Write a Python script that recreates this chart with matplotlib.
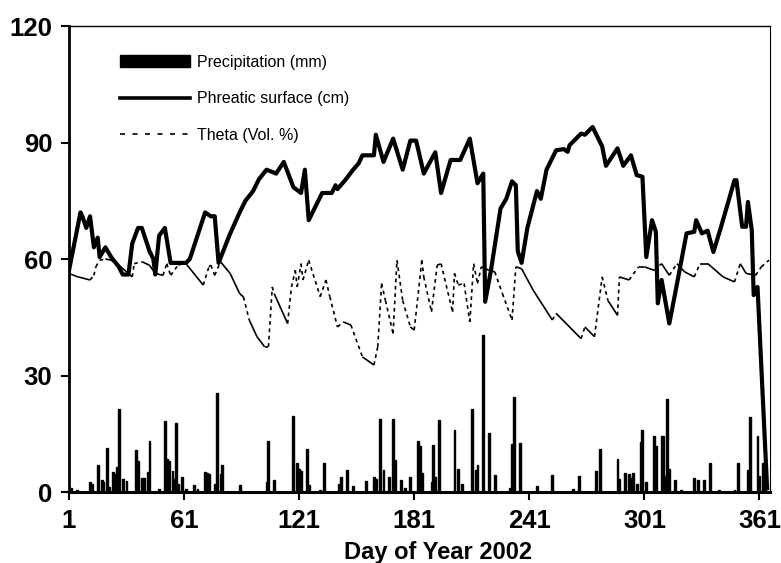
import matplotlib

matplotlib.use("Agg")
import matplotlib.pyplot as plt
import numpy as np
from matplotlib.collections import LineCollection
from matplotlib.lines import Line2D
from matplotlib.patches import Patch

plt.rcParams["font.family"] = ["Liberation Sans", "DejaVu Sans"]

# Phreatic surface (cm)
phreatic_day = [1, 3, 7, 8, 10, 12, 14, 16, 17, 20, 23, 27, 29, 32, 34, 37, 39, 43, 45, 46,
                48, 51, 54, 56, 62, 64, 72, 75, 77, 79, 85, 90, 93, 97, 100, 104, 109, 113, 118, 122,
                124, 126, 133, 138, 140, 141, 145, 149, 152, 154, 160, 161, 165, 170, 175, 179, 182, 186, 192, 195,
                200, 205, 210, 214, 217, 218, 221, 226, 229, 232, 234, 235, 237, 240, 245, 247, 250, 255, 259, 261,
                262, 268, 270, 274, 279, 281, 287, 290, 294, 297, 300, 302, 305, 307, 308, 310, 314, 317, 323, 327,
                328, 331, 334, 335, 337, 341, 348, 349, 352, 354, 355, 357, 358, 360, 365]
phreatic_cm = [57, 62, 72, 71, 68, 71, 63, 65.5, 60.5, 63, 60.5, 58, 56, 56, 64, 68, 68, 62, 60, 56,
               66, 68, 59, 59, 59, 60, 72, 71, 71, 59, 66.5, 72, 75, 77.5, 80.5, 83, 82, 85, 78.5, 77,
               83, 70, 77, 77, 79, 78, 80.3, 82.9, 84.6, 86.7, 86.7, 92, 85, 91, 83, 90.5, 90.5, 82, 87.5, 77,
               85.5, 85.5, 91, 79.5, 82, 49, 57, 73, 75.5, 80, 79, 62, 59, 68, 77.5, 75.5, 83, 88, 88.3, 87.6,
               89.3, 92.3, 92, 94, 89, 84, 88.5, 84, 86.7, 81.6, 81.2, 60.5, 70, 67, 48.6, 54.6, 43.4, 51, 66.6, 67,
               70, 66.6, 67.3, 65.4, 61.8, 68.3, 80.3, 80.3, 68.3, 68.3, 74.7, 67.4, 50.7, 52.8, 1]

# Theta (Vol. %)
theta_day = [1, 5, 12, 14, 15, 17, 20, 23, 28, 34, 35, 39, 43, 46, 50, 52, 54, 58, 62, 71,
             74, 75, 77, 80, 85, 90, 92, 95, 99, 103, 105, 107, 108, 115, 117, 119, 120, 122, 123, 126,
             132, 135, 137, 141, 144, 148, 154, 160, 162, 164, 166, 170, 172, 175, 179, 181, 185, 186, 190, 193,
             195, 201, 202, 204, 207, 210, 212, 214, 216, 220, 223, 227, 232, 234, 237, 243, 253, 255, 261, 268,
             270, 275, 279, 282, 287, 288, 293, 298, 301, 306, 310, 314, 318, 322, 327, 330, 334, 336, 342, 348,
             351, 354, 359, 362, 366]
theta_pct = [56.3, 55.5, 54.6, 55.8, 58, 59.7, 60, 59.7, 58, 55.4, 58.8, 59.3, 58.4, 56.3, 55.8, 58.8, 55.8, 58.5, 58.8, 53.3,
             58, 58.4, 55.8, 59.3, 56.3, 51.1, 50.2, 44.3, 40, 37.4, 37.4, 52.8, 51.1, 43.4, 52.8, 57.1, 52.8, 58.8, 54.6, 59.7,
             50.3, 54.6, 50.3, 42.5, 43.8, 43, 34.8, 32.7, 37.4, 53.7, 49.3, 40.8, 59.7, 49.3, 42.5, 41.7, 59.7, 55.4, 46.4, 58.4,
             58.8, 46.4, 56.3, 53.3, 53.7, 43.8, 58.8, 53.7, 58, 57.1, 56.7, 51.1, 44.3, 58, 57.5, 52, 44.3, 46, 43, 39.5,
             42.5, 40, 55.4, 49.3, 45.5, 55.4, 54.6, 58, 58, 57.1, 58.8, 55.8, 58.8, 56.7, 55.4, 58.8, 58.8, 58, 55.4, 54.1,
             58.8, 56.3, 55.8, 58, 59.7]

# Daily precipitation (mm)
precip_day = [2, 5, 12, 13, 16, 18, 19, 21, 22, 24, 25, 26, 27, 29, 31, 36, 37, 39, 40, 42,
              43, 48, 51, 52, 53, 55, 56, 57, 58, 60, 62, 66, 68, 72, 73, 74, 77, 78, 80, 81,
              90, 104, 105, 108, 118, 120, 121, 122, 125, 126, 132, 134, 142, 143, 146, 149, 156, 160, 161, 163,
              165, 168, 170, 171, 174, 176, 179, 183, 184, 185, 190, 191, 192, 194, 202, 204, 206, 211, 213, 214,
              217, 220, 223, 231, 232, 233, 236, 245, 253, 264, 267, 276, 278, 287, 288, 291, 293, 294, 295, 297,
              299, 300, 302, 306, 307, 310, 311, 312, 313, 314, 317, 320, 327, 329, 332, 335, 340, 348, 350, 355,
              356, 360, 361, 363, 364]
precip_mm = [1.0, 0.6, 2.6, 2.1, 6.9, 3.0, 2.6, 11.3, 1.3, 5.1, 4.7, 6.5, 21.3, 3.4, 2.8, 10.9, 8.1, 3.6, 3.6, 5.1,
             13.1, 0.9, 18.4, 8.5, 8.1, 5.5, 3.4, 17.8, 2.1, 3.9, 0.9, 1.7, 0.9, 5.1, 4.8, 4.7, 2.1, 25.5, 4.7, 7.0,
             1.7, 2.7, 13.2, 3.1, 19.6, 7.4, 6.0, 5.3, 11.0, 1.9, 0.6, 7.4, 2.1, 3.9, 5.6, 1.5, 2.8, 3.9, 3.4, 18.7,
             5.6, 3.9, 18.7, 8.3, 3.1, 1.0, 3.9, 13.2, 11.8, 4.9, 2.7, 12.0, 3.9, 18.5, 15.9, 5.9, 2.1, 21.4, 5.7, 6.9,
             40.5, 15.2, 4.5, 1.0, 12.3, 24.4, 12.6, 1.5, 4.5, 0.7, 4.0, 5.3, 11.0, 8.6, 3.3, 5.0, 4.6, 3.5, 5.0, 2.0,
             12.9, 15.9, 2.7, 14.5, 11.9, 14.3, 14.3, 4.0, 23.9, 5.9, 3.1, 0.6, 3.6, 3.1, 3.1, 7.5, 0.4, 0.6, 7.4, 5.7,
             19.4, 14.3, 4.0, 7.4, 3.0]

x_ticks = [1, 61, 121, 181, 241, 301, 361]
y_ticks = [0, 30, 60, 90, 120]

fig = plt.figure(figsize=(7.81, 5.63), dpi=100)
ax = fig.add_axes([0.0883, 0.1261, 0.8976, 0.8277])

ax.bar(precip_day, precip_mm, width=1.0, color="black", edgecolor="black", linewidth=1.0, zorder=2)

# theta: gentle recessions read as a continuous line in the scan, the jumpy
# parts as dashes
td = np.array(theta_day, dtype=float)
tv = np.array(theta_pct, dtype=float)
segs = np.stack([np.column_stack([td[:-1], tv[:-1]]), np.column_stack([td[1:], tv[1:]])], axis=1)
slope = np.diff(tv) / np.diff(td)
styles = ["solid" if -1.3 <= s <= 0 else (0, (2.2, 2.2)) for s in slope]
ax.add_collection(LineCollection(segs, colors="black", linewidths=1.2, linestyles=styles, zorder=3))

ax.plot(phreatic_day, phreatic_cm, color="black", lw=3.0, solid_joinstyle="round", zorder=4)

ax.set_xlim(1, 366.5)
ax.set_ylim(0, 120)
ax.set_xticks(x_ticks)
ax.set_yticks(y_ticks)
ax.tick_params(direction="out", length=6, width=1.5, labelsize=18.5, pad=6)
for lab in ax.get_xticklabels() + ax.get_yticklabels():
    lab.set_fontweight("bold")

ax.set_xlabel("Day of Year 2002", fontsize=17, fontweight="bold")
ax.xaxis.set_label_coords(0.526, -0.105)

ax.spines["left"].set_linewidth(2.0)
ax.spines["bottom"].set_linewidth(2.2)
ax.spines["top"].set_linewidth(1.0)
ax.spines["right"].set_linewidth(0.8)

handles = [
    Patch(facecolor="black", edgecolor="black"),
    Line2D([], [], color="black", lw=2.6),
    Line2D([], [], color="black", lw=1.2, linestyle=(0, (3, 4.5))),
]
labels = ["Precipitation (mm)", "Phreatic surface (cm)", "Theta (Vol. %)"]
ax.legend(handles, labels, loc="upper left", bbox_to_anchor=(0.073, 0.938), frameon=False,
          fontsize=11.5, handlelength=4.4, handleheight=0.8, handletextpad=0.4,
          labelspacing=1.35, borderpad=0, borderaxespad=0)

fig.savefig("out.png", dpi=100)
